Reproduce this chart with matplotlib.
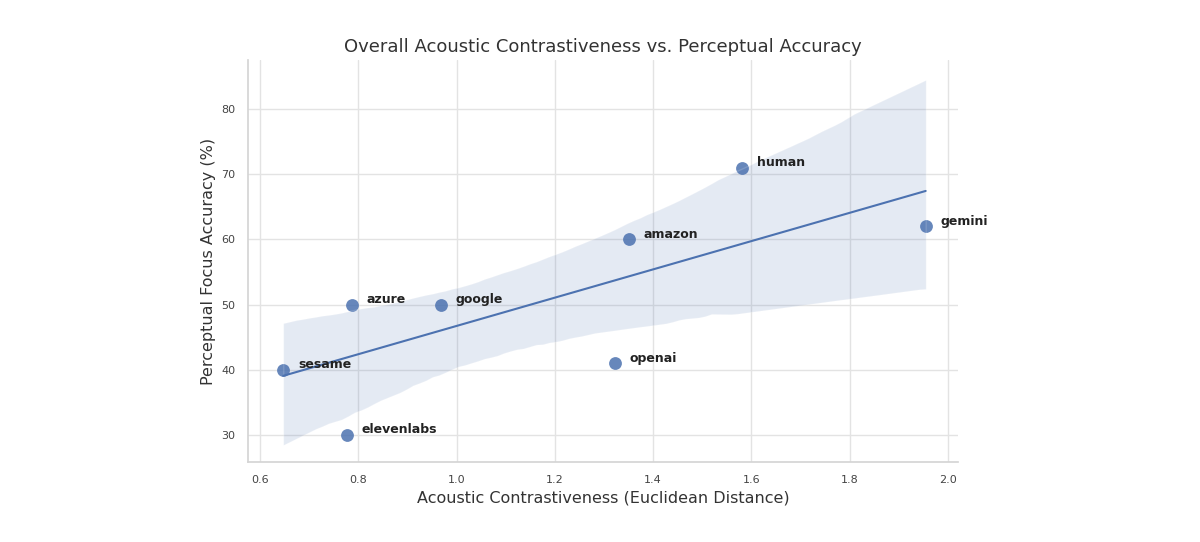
import matplotlib
matplotlib.use("Agg")
from matplotlib import pyplot as plt
import seaborn as sns
import pandas as pd

models = ["sesame", "elevenlabs", "azure", "google", "openai", "amazon", "human", "gemini"]
distance = [0.647, 0.777, 0.787, 0.968, 1.322, 1.351, 1.581, 1.955]
accuracy = [40, 30, 50, 50, 41, 60, 71, 62]

df = pd.DataFrame({"model": models, "distance": distance, "accuracy": accuracy})

sns.set_theme(style="whitegrid", rc={"grid.color": "#e3e3e3", "axes.edgecolor": "#d5d5d5"})
plt.rcParams['font.family'] = ['DejaVu Sans']

fig = plt.figure(figsize=(12, 5.42), dpi=100)
ax = fig.add_axes([0.207, 0.148, 0.591, 0.741])

sns.regplot(data=df, x="distance", y="accuracy", ax=ax, seed=0,
            scatter_kws={"s": 85, "linewidths": 0, "alpha": 0.85},
            line_kws={"linewidth": 1.5})

for i in range(len(df)):
    ax.text(df.distance[i] + 0.03, df.accuracy[i] + 0.8, df.model[i],
            fontsize=9, fontweight="bold", color="#222222", va="center")

ax.set_xlim(0.576, 2.02)
ax.set_ylim(25.9, 87.5)
ax.set_title("Overall Acoustic Contrastiveness vs. Perceptual Accuracy", fontsize=13, color="#333333")
ax.set_xlabel("Acoustic Contrastiveness (Euclidean Distance)", fontsize=11.5, color="#333333")
ax.set_ylabel("Perceptual Focus Accuracy (%)", fontsize=11.5, color="#333333")
ax.tick_params(labelsize=8, colors="#444444")
sns.despine(ax=ax)

fig.savefig("out.png", dpi=100)
